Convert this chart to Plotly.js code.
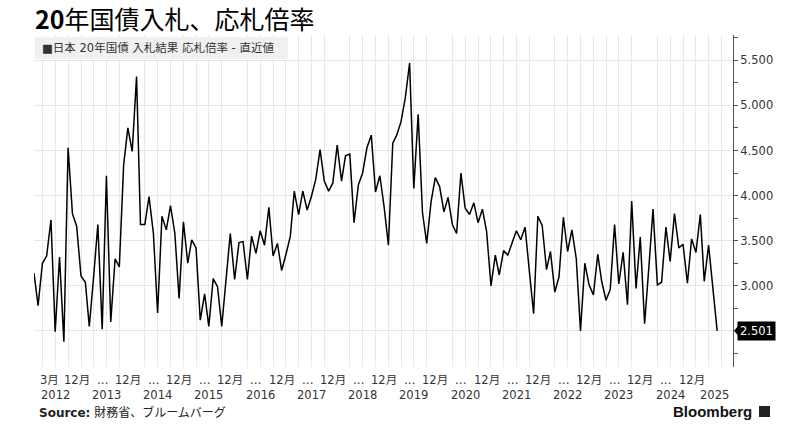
<!DOCTYPE html>
<html>
<head>
<meta charset="utf-8">
<script src="https://cdn.plot.ly/plotly-3.0.1.min.js"></script>
<style>html,body{margin:0;padding:0;background:#fff;}#chart{width:795px;height:425px;}</style>
</head>
<body>
<div id="chart"></div>
<script>
// 20年国債入札 応札倍率 (monthly, first auction shown = 2012-02)
const startYear = 2012;
const startMonth = 2; // February
const bidToCover = [
  3.14, 2.78, 3.25, 3.33, 3.73, 2.49, 3.32, 2.38, 4.53, 3.80,
  3.66, 3.11, 3.04, 2.55, 3.10, 3.68, 2.52, 4.22, 2.60, 3.30,
  3.21, 4.34, 4.75, 4.49, 5.32, 3.68, 3.68, 3.99, 3.58, 2.70,
  3.77, 3.62, 3.89, 3.58, 2.86, 3.71, 3.25, 3.51, 3.42, 2.62,
  2.91, 2.55, 3.08, 2.99, 2.55, 3.07, 3.58, 3.07, 3.48, 3.49,
  3.07, 3.55, 3.36, 3.61, 3.45, 3.87, 3.33, 3.47, 3.17, 3.35,
  3.55, 4.05, 3.79, 4.05, 3.84, 3.99, 4.18, 4.51, 4.16, 4.05,
  4.14, 4.56, 4.16, 4.44, 4.46, 3.70, 4.12, 4.25, 4.53, 4.67,
  4.04, 4.22, 3.88, 3.45, 4.58, 4.67, 4.82, 5.08, 5.47, 4.08,
  4.90, 3.81, 3.47, 3.93, 4.20, 4.10, 3.82, 3.98, 3.68, 3.58,
  4.25, 3.86, 3.79, 3.92, 3.70, 3.85, 3.60, 3.00, 3.34, 3.12,
  3.39, 3.34, 3.48, 3.61, 3.51, 3.65, 3.17, 2.69, 3.77, 3.67,
  3.18, 3.38, 2.93, 3.10, 3.76, 3.38, 3.62, 3.30, 2.50, 3.25,
  3.01, 2.90, 3.35, 3.05, 2.84, 2.96, 3.68, 3.02, 3.37, 2.79,
  3.94, 2.97, 3.54, 2.58, 3.22, 3.85, 3.01, 3.04, 3.65, 3.27,
  3.80, 3.42, 3.46, 3.03, 3.52, 3.37, 3.79, 3.05, 3.45, 2.98,
  2.501
];
const lastValueLabel = "2.501";
const yTickVals = [2.5, 3.0, 3.5, 4.0, 4.5, 5.0, 5.5];
const yTickText = ["", "3.000", "3.500", "4.000", "4.500", "5.000", "5.500"];
const decYears = [2012,2013,2014,2015,2016,2017,2018,2019,2020,2021,2022,2023,2024];
const dotYears = [2013,2014,2015,2016,2017,2018,2019,2020,2021,2022,2023,2024];
const yearLabels = ["2012","2013","2014","2015","2016","2017","2018","2019","2020","2021","2022","2023","2024","2025"];
const titleText = "<b>20</b>年国債入札、応札倍率";
const legendText = "■日本 20年国債 入札結果 応札倍率 - 直近値";
const sourceText = "<b>Source:</b> 財務省、ブルームバーグ";

function pad(n){return (n<10?"0":"")+n;}
const months = bidToCover.map((v,i)=>{
  const d = new Date(Date.UTC(startYear, startMonth-1+i, 1));
  return d.getUTCFullYear()+"-"+pad(d.getUTCMonth()+1)+"-01";
});

// geometry helpers (plot area in px)
const L=34, R=733, T=35, B=367;
const px = x => (x-L)/(R-L);
const py = y => (B-y)/(B-T);

const latin = "DejaVu Sans, Noto Sans CJK JP, sans-serif";
const axisFont = {family:latin, size:11.5, color:"#333"};

const annotations = [];
annotations.push({x:"2012-05-24", xref:"x", y:0, yref:"paper", yshift:-13, yanchor:"middle", xanchor:"center",
  text:"3月", showarrow:false, font:axisFont});
decYears.forEach(y=>{
  annotations.push({x:y+"-12-01", xref:"x", y:0, yref:"paper", yshift:-13, yanchor:"middle", xanchor:"center",
    text:"12月", showarrow:false, font:axisFont});
});
dotYears.forEach(y=>{
  annotations.push({x:y+"-06-01", xref:"x", y:0, yref:"paper", yshift:-13, yanchor:"middle", xanchor:"center",
    text:"...", showarrow:false, font:{family:latin, size:12, color:"#333"}});
});
yearLabels.forEach((y,i)=>{
  const xv = (y==="2025") ? "2025-05-10" : (y+"-07-01");
  annotations.push({x:xv, xref:"x", y:0, yref:"paper", yshift:-28, yanchor:"middle", xanchor:"center",
    text:y, showarrow:false, font:axisFont});
});
annotations.push({x:px(40), xref:"paper", y:py(48), yref:"paper", xanchor:"left", yanchor:"middle",
  text:legendText, showarrow:false, font:{family:latin, size:11.5, color:"#333"}});
annotations.push({x:px(37), xref:"paper", y:0, yref:"paper", yshift:-45, xanchor:"left", yanchor:"middle",
  text:sourceText, showarrow:false, font:{family:latin, size:12, color:"#222"}});
annotations.push({x:px(754), xref:"paper", y:0, yref:"paper", yshift:-44, xanchor:"right", yanchor:"middle",
  text:"<b>Bloomberg</b>", showarrow:false, font:{family:"Liberation Sans, Arial, sans-serif", size:15, color:"#111"}});
annotations.push({x:1, xref:"paper", xshift:4, y:bidToCover[bidToCover.length-1], yref:"y", xanchor:"left", yanchor:"middle",
  text:lastValueLabel, showarrow:false, bgcolor:"#000", borderpad:2,
  font:{family:latin, size:11.5, color:"#fff"}});

const shapes = [
  {type:"rect", xref:"paper", yref:"paper", x0:px(35), x1:px(288), y0:py(59), y1:py(37),
   fillcolor:"#f0f0f0", line:{width:0}, layer:"above"},
  {type:"path", xref:"paper", yref:"y",
   path:"M "+px(734)+","+2.501+" L "+px(739)+","+2.565+" L "+px(739)+","+2.437+" Z",
   fillcolor:"#000", line:{width:0}},
  {type:"rect", xref:"paper", yref:"paper", x0:px(759), x1:px(770), y0:py(417), y1:py(406),
   fillcolor:"#222", line:{width:0}}
];

const trace = {
  x: months, y: bidToCover, type:"scatter", mode:"lines",
  line:{color:"#000", width:1.5}, hoverinfo:"skip"
};

const layout = {
  width:795, height:425,
  margin:{l:L, r:795-R, t:T, b:425-B, pad:0},
  paper_bgcolor:"#fff", plot_bgcolor:"#fff",
  showlegend:false,
  title:{text:titleText, font:{family:"Noto Sans CJK JP, sans-serif", size:25, color:"#000"},
    xref:"container", x:35/795, xanchor:"left", yref:"container", y:1-20/425, yanchor:"middle"},
  xaxis:{
    type:"date", range:["2012-02-01","2025-09-22"],
    showticklabels:false,
    ticks:"", showgrid:false, showline:false, zeroline:false,
    minor:{tickmode:"linear", tick0:"2012-01-01", dtick:"M3", showgrid:true, gridcolor:"#e8e8e8", gridwidth:1, ticks:""}
  },
  yaxis:{
    side:"right", range:[2.1, 5.78],
    tickmode:"array", tickvals:yTickVals, ticktext:yTickText,
    ticks:"outside", ticklen:4, tickcolor:"#555", tickwidth:1,
    showline:true, linecolor:"#555", linewidth:1,
    showgrid:true, gridcolor:"#e6e6e6", gridwidth:1, zeroline:false,
    tickfont:{family:latin, size:11.5, color:"#333"},
    minor:{tickmode:"linear", tick0:0, dtick:0.25, ticks:"outside", ticklen:4, tickcolor:"#555", showgrid:false}
  },
  annotations:annotations,
  shapes:shapes
};

Plotly.newPlot("chart", [trace], layout, {displayModeBar:false, staticPlot:true});
</script>
</body>
</html>
